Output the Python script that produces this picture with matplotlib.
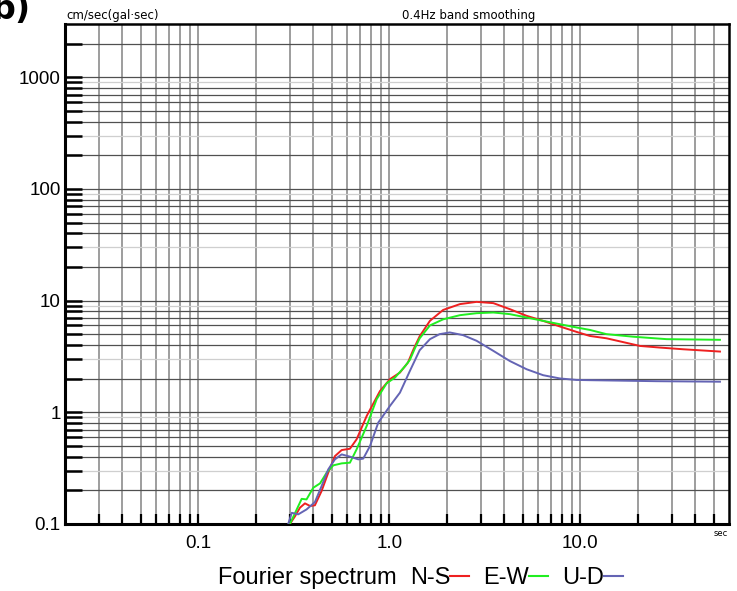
import matplotlib
matplotlib.use('Agg')
import matplotlib.pyplot as plt
from matplotlib.lines import Line2D

# Fourier spectrum values (period in sec, amplitude cm/sec)
ns_period = [0.301, 0.320, 0.340, 0.361, 0.384, 0.407, 0.441, 0.478, 0.518, 0.562, 0.621,
             0.673, 0.760, 0.892, 1.006, 1.135, 1.25, 1.33, 1.44, 1.63, 1.91, 2.34, 2.86,
             3.50, 4.27, 5.23, 6.38, 7.81, 9.55, 11.2, 13.7, 20.5, 26.1, 34.5, 53.8]
ns_amp = [0.100, 0.117, 0.140, 0.153, 0.145, 0.147, 0.197, 0.288, 0.405, 0.459, 0.472,
          0.573, 0.927, 1.55, 1.98, 2.27, 2.79, 3.60, 4.80, 6.60, 8.25, 9.31, 9.75,
          9.50, 8.39, 7.31, 6.59, 5.87, 5.25, 4.83, 4.60, 3.93, 3.80, 3.67, 3.50]

ew_period = [0.301, 0.327, 0.347, 0.368, 0.399, 0.433, 0.469, 0.508, 0.562, 0.621, 0.673,
             0.760, 0.857, 0.967, 1.07, 1.21, 1.28, 1.36, 1.44, 1.63, 1.91, 2.34, 2.86,
             3.50, 4.27, 5.23, 6.38, 7.81, 9.55, 11.2, 13.7, 19.0, 28.3, 53.8]
ew_amp = [0.100, 0.135, 0.168, 0.166, 0.211, 0.231, 0.288, 0.335, 0.349, 0.354, 0.466,
          0.754, 1.31, 1.82, 2.05, 2.60, 2.95, 3.75, 4.60, 6.00, 6.80, 7.41, 7.72,
          7.83, 7.57, 7.06, 6.59, 6.15, 5.75, 5.47, 5.01, 4.75, 4.52, 4.46]

ud_period = [0.295, 0.308, 0.333, 0.368, 0.407, 0.441, 0.478, 0.518, 0.562, 0.621, 0.687,
             0.729, 0.791, 0.874, 1.006, 1.135, 1.28, 1.44, 1.63, 1.83, 2.07, 2.43, 2.86,
             3.50, 4.27, 5.23, 6.38, 7.81, 9.55, 11.2, 25.0, 53.8]
ud_amp = [0.100, 0.126, 0.122, 0.135, 0.157, 0.218, 0.308, 0.379, 0.420, 0.401, 0.379,
          0.385, 0.499, 0.809, 1.14, 1.50, 2.35, 3.60, 4.52, 5.01, 5.19, 4.91, 4.37,
          3.55, 2.88, 2.43, 2.15, 2.01, 1.95, 1.94, 1.90, 1.88]

y_labels = ['0.1', '1', '10', '100', '1000']
x_labels = ['0.1', '1.0', '10.0']

W, H = 737, 591
fig = plt.figure(figsize=(W / 100, H / 100), dpi=100)
ax = fig.add_axes([65 / W, 67 / H, 664 / W, 500 / H])
ax.set_xscale('log')
ax.set_yscale('log')
ax.set_xlim(0.02, 60)
ax.set_ylim(0.1, 3000)

# grid: vertical lines grey, horizontal dark with a few light ones
for d in range(-2, 2):
    for s in range(1, 10):
        v = s * 10.0 ** d
        if 0.02 < v < 60:
            ax.axvline(v, color='#8c8c8c', lw=1.2, zorder=1)
for d in range(-1, 4):
    for s in range(1, 10):
        v = s * 10.0 ** d
        if 0.1 < v < 3000:
            c = '#cfcfcf' if s in (3, 9) else '#505050'
            ax.axhline(v, color=c, lw=0.9, zorder=1)

ax.plot(ns_period, ns_amp, color='#ee2020', lw=1.4, zorder=3)
ax.plot(ew_period, ew_amp, color='#20ee20', lw=1.4, zorder=3)
ax.plot(ud_period, ud_amp, color='#6464b4', lw=1.4, zorder=3)

# ticks
major_y = [0.1, 1, 10, 100, 1000]
minor_y = [s * 10.0 ** d for d in range(-1, 4) for s in range(2, 10) if s * 10.0 ** d < 3000]
ax.set_yticks(major_y, y_labels)
ax.set_yticks(minor_y, minor=True)
major_x = [0.1, 1, 10]
minor_x = [s * 10.0 ** d for d in range(-2, 2) for s in range(2, 10)
           if 0.02 < s * 10.0 ** d < 60]
ax.set_xticks(major_x, x_labels)
ax.set_xticks(minor_x, minor=True)

ax.tick_params(axis='y', which='both', direction='in', length=12, width=1.8,
               labelsize=13.5, pad=3)
ax.tick_params(axis='x', which='both', direction='in', length=7.5, width=1.6,
               labelsize=13.5, pad=8)
ax.tick_params(axis='x', which='minor', labelbottom=False)
ax.tick_params(axis='y', which='minor', labelleft=False)
for lab in ax.get_xticklabels() + ax.get_yticklabels():
    lab.set_fontfamily('Liberation Sans')

for side in ['left', 'bottom']:
    ax.spines[side].set_linewidth(2.2)
for side in ['top', 'right']:
    ax.spines[side].set_linewidth(1.8)

# texts around the frame
fig.text(66 / W, 1 - 15 / H, 'cm/sec(gal\u00b7sec)', fontsize=8.5, va='center', ha='left')
fig.text(469 / W, 1 - 15 / H, '0.4Hz band smoothing', fontsize=8.5, va='center', ha='center')
fig.text(721 / W, 1 - 534 / H, 'sec', fontsize=6, va='center', ha='center')
fig.text(-0.012, 1.012, 'b)', fontsize=24, fontweight='bold', va='top', ha='left')

fig.text(218 / W, 1 - 578 / H, 'Fourier spectrum', fontsize=17, va='center', ha='left',
         family='Liberation Sans')
handles = [Line2D([], [], color='#ee2020', lw=1.5),
           Line2D([], [], color='#20ee20', lw=1.5),
           Line2D([], [], color='#6464b4', lw=1.5)]
fig.legend(handles, ['N-S', 'E-W', 'U-D'], ncol=3, markerfirst=False, frameon=False,
           loc='center left', bbox_to_anchor=(410 / W, 1 - 578 / H),
           prop={'family': 'Liberation Sans', 'size': 17},
           handlelength=0.8, handletextpad=0.0, columnspacing=0.6,
           borderpad=0, borderaxespad=0)

fig.savefig('out.png', dpi=100)
